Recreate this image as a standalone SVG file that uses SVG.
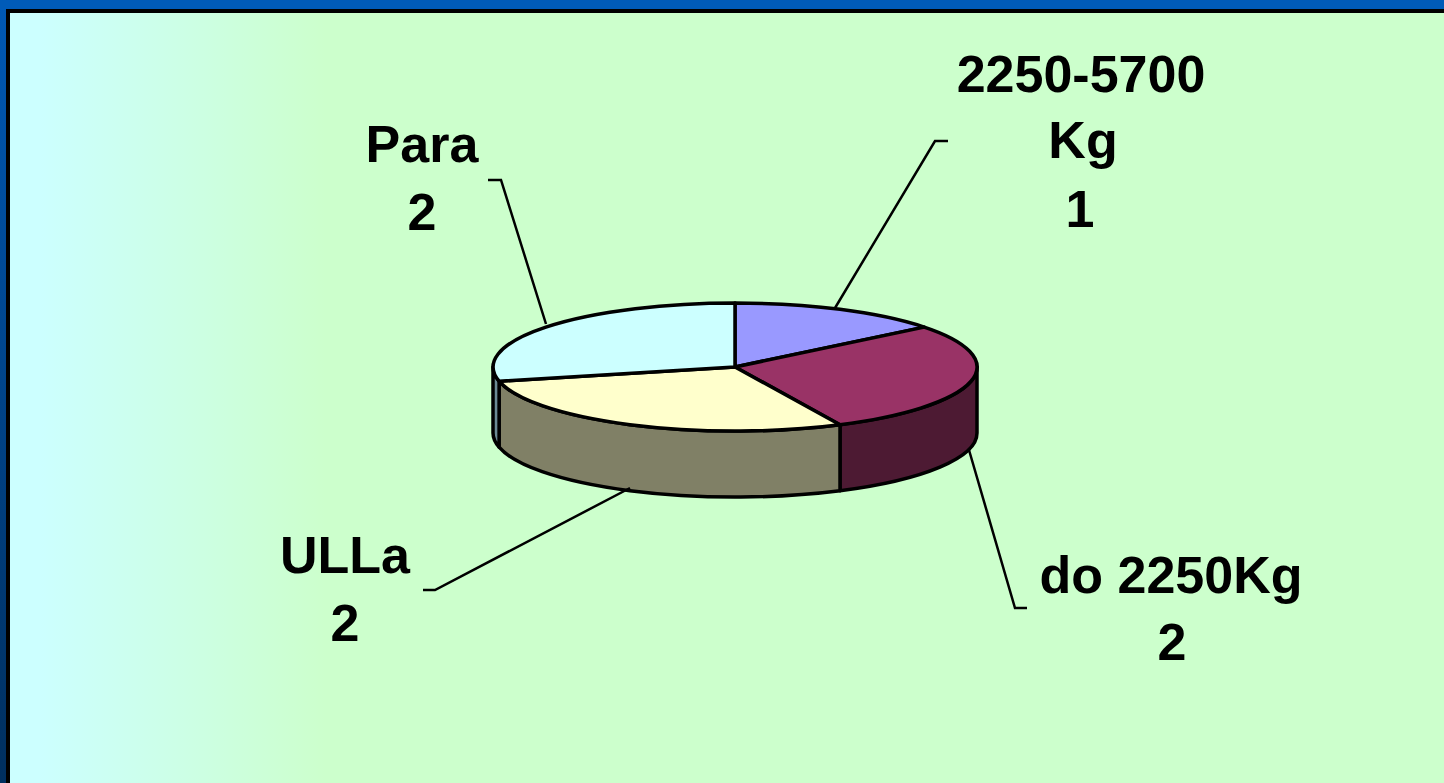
<svg xmlns="http://www.w3.org/2000/svg" width="1444" height="783" viewBox="0 0 1444 783">
<defs>
<linearGradient id="panel" x1="0" y1="0" x2="1" y2="0" gradientUnits="objectBoundingBox">
<stop offset="0" stop-color="#ccffff"/>
<stop offset="0.02" stop-color="#ccffff"/>
<stop offset="0.22" stop-color="#ccffcc"/>
<stop offset="1" stop-color="#ccffcc"/>
</linearGradient>
<linearGradient id="frameL" x1="0" y1="0" x2="0" y2="1">
<stop offset="0" stop-color="#0058b4"/>
<stop offset="1" stop-color="#002f5e"/>
</linearGradient>
</defs>
<style>
.slice{stroke:#000;stroke-width:3.5;stroke-linejoin:round}
.lead{fill:none;stroke:#000;stroke-width:2.5}
.lbl{font-family:"Liberation Sans",Arial,sans-serif;font-weight:bold;font-size:52px;fill:#000;text-anchor:middle}
</style>
<rect x="0" y="0" width="1444" height="783" fill="url(#frameL)"/>
<rect x="0" y="0" width="1444" height="10" fill="#005bb8"/>
<rect x="6" y="9" width="1438" height="774" fill="#000"/>
<rect x="10" y="13" width="1434" height="770" fill="url(#panel)"/>

<g id="pie">
<g id="sides">
<path class="slice" fill="#4d1a33" d="M977,367 A242,64 0 0,1 840,424.7 L840,490.7 A242,64 0 0,0 977,433 Z"/>
<path class="slice" fill="#808066" d="M840,424.7 A242,64 0 0,1 499.1,381.2 L499.1,447.2 A242,64 0 0,0 840,490.7 Z"/>
<path class="slice" fill="#6b8a94" d="M499.1,381.2 A242,64 0 0,1 493,367 L493,433 A242,64 0 0,0 499.1,447.2 Z"/>
</g>
<g id="slice-2250-5700">
<path class="slice" fill="#9999ff" d="M735,367 L735,303 A242,64 0 0,1 924.2,327.1 Z"/>
</g>
<g id="slice-do2250">
<path class="slice" fill="#993366" d="M735,367 L924.2,327.1 A242,64 0 0,1 840,424.7 Z"/>
</g>
<g id="slice-ulla">
<path class="slice" fill="#ffffcc" d="M735,367 L840,424.7 A242,64 0 0,1 499.1,381.2 Z"/>
</g>
<g id="slice-para">
<path class="slice" fill="#ccffff" d="M735,367 L499.1,381.2 A242,64 0 0,1 735,303 Z"/>
</g>
</g>

<g id="connectors">
<polyline class="lead" points="488,180 501,180 546,324"/>
<polyline class="lead" points="948,141 935,141 835,308"/>
<polyline class="lead" points="1027,608 1015,608 969,450"/>
<polyline class="lead" points="423,590 435,590 630,488"/>
</g>

<g id="label-para">
<text class="lbl" x="422" y="162">Para</text>
<text class="lbl" x="422" y="230">2</text>
</g>
<g id="label-2250-5700">
<text class="lbl" x="1081" y="92">2250-5700</text>
<text class="lbl" x="1083" y="158">Kg</text>
<text class="lbl" x="1080" y="227">1</text>
</g>
<g id="label-ulla">
<text class="lbl" x="345" y="573">ULLa</text>
<text class="lbl" x="345" y="641">2</text>
</g>
<g id="label-do2250">
<text class="lbl" x="1171" y="593">do 2250Kg</text>
<text class="lbl" x="1172" y="660">2</text>
</g>
</svg>
